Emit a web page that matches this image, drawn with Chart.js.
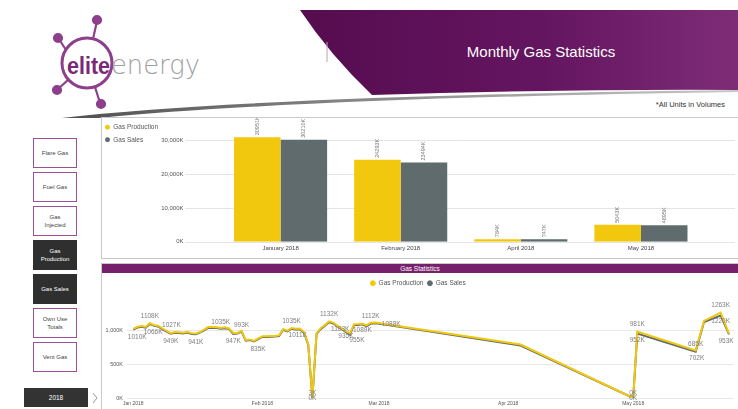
<!DOCTYPE html>
<html>
<head>
<meta charset="utf-8">
<script src="https://cdn.jsdelivr.net/npm/chart.js@4.4.0/dist/chart.umd.min.js"></script>
<style>
    body { margin: 0; width: 738px; height: 409px; overflow: hidden; background: #fff; position: relative; font-family: "Liberation Sans", Arial, sans-serif; }
    #header { position: absolute; left: 0; top: 0; }
    .btn { position: absolute; left: 33px; width: 42px; height: 28px; border: 1.5px solid #9C4E97; background: #fff; color: #444; font-size: 6px; display: flex; align-items: center; justify-content: center; text-align: center; line-height: 8px; }
    .btn.on { background: #2F2F2F; border-color: #2F2F2F; color: #fff; }
    #year { position: absolute; left: 24px; top: 388px; width: 64px; height: 19px; background: #333; color: #fff; font-size: 6.5px; display: flex; align-items: center; justify-content: center; }
    .panel { position: absolute; left: 101px; width: 636px; border: 1px solid #c9c9c9; }
    #barPanel { top: 117px; height: 140px; }
    #linePanel { top: 263px; height: 146px; border-bottom: none; }
    #lineTitle { position: absolute; left: 0; top: 0; width: 636px; height: 9px; background: #76206C; color: #fff; font-size: 6.5px; line-height: 9px; text-align: center; }
    canvas { position: absolute; left: 0; }
    #units { position: absolute; right: 13px; top: 100px; font-size: 7.5px; color: #333; }
</style>
</head>
<body>
<svg id="header" width="738" height="118">
    <defs>
        <linearGradient id="purple" x1="0" y1="0" x2="1" y2="0">
            <stop offset="0" stop-color="#560C4F"/>
            <stop offset="0.55" stop-color="#641560"/>
            <stop offset="1" stop-color="#7E2C76"/>
        </linearGradient>
        <linearGradient id="swoosh" x1="0" y1="0" x2="1" y2="0">
            <stop offset="0" stop-color="#444"/>
            <stop offset="0.5" stop-color="#8a8a8a"/>
            <stop offset="1" stop-color="#c8c8c8"/>
        </linearGradient>
    </defs>
    <path d="M300 10 L738 10 L738 90 Q560 89 372 95 Q330 55 300 10 Z" fill="url(#purple)"/>
    <path d="M5 126 Q170 97 738 90 L738 92 Q180 100 5 130 Z" fill="url(#swoosh)"/>
    <line x1="327" y1="42" x2="327" y2="62" stroke="#b9a0b5" stroke-width="1"/>
    <text x="541" y="57" text-anchor="middle" font-size="15" fill="#fff" font-family="Liberation Sans, Arial">Monthly Gas Statistics</text>
    <g stroke="#8E3F8C" stroke-width="2.2" fill="#8E3F8C">
        <line x1="93" y1="39" x2="97" y2="21"/>
        <line x1="66" y1="50" x2="59" y2="39"/>
        <line x1="68" y1="80" x2="58" y2="89"/>
        <line x1="95" y1="87" x2="100" y2="103"/>
        <circle cx="97" cy="20" r="4"/>
        <circle cx="58" cy="38" r="4"/>
        <circle cx="57" cy="90" r="4"/>
        <circle cx="101" cy="104" r="4"/>
    </g>
    <circle cx="87" cy="63" r="25" fill="none" stroke="#8E3F8C" stroke-width="3"/>
    <text x="67" y="74" font-size="24" font-weight="bold" fill="#7A2877" textLength="43" lengthAdjust="spacingAndGlyphs" font-family="Liberation Sans, Arial">elite</text>
    <text x="111" y="74" font-size="26" fill="#a0a0a0" textLength="89" lengthAdjust="spacingAndGlyphs" font-family="DejaVu Sans, Liberation Sans" font-weight="200">energy</text>
</svg>
<div id="units">*All Units in Volumes</div>

<div class="btn" style="top:138px">Flare Gas</div>
<div class="btn" style="top:172px">Fuel Gas</div>
<div class="btn" style="top:206px">Gas<br>Injected</div>
<div class="btn on" style="top:240px">Gas<br>Production</div>
<div class="btn on" style="top:274px">Gas Sales</div>
<div class="btn" style="top:308px">Own Use<br>Totals</div>
<div class="btn" style="top:342px">Vent Gas</div>
<div id="year">2018</div>
<svg style="position:absolute;left:91px;top:392px" width="8" height="12"><polyline points="2,1 6,6 2,11" fill="none" stroke="#999" stroke-width="1"/></svg>

<div class="panel" id="barPanel"><canvas id="barChart" width="636" height="140" style="top:0"></canvas></div>
<div class="panel" id="linePanel">
    <div id="lineTitle">Gas Statistics</div>
    <canvas id="lineChart" width="636" height="136" style="top:10px"></canvas>
</div>

<script>
// monthly totals (bar chart)
const barMonths = ['January 2018', 'February 2018', 'April 2018', 'May 2018'];
const barProduction = [30951, 24293, 784, 5043];
const barSales = [30210, 23494, 747, 4895];
const barTicks = [0, 10000, 20000, 30000];

// daily values (line chart), K
const lineDates = [
    '2018-01-01', '2018-01-02', '2018-01-03', '2018-01-04', '2018-01-05', '2018-01-06', '2018-01-07', '2018-01-08',
    '2018-01-09', '2018-01-10', '2018-01-11', '2018-01-12', '2018-01-13', '2018-01-14', '2018-01-15', '2018-01-16',
    '2018-01-17', '2018-01-18', '2018-01-19', '2018-01-20', '2018-01-21', '2018-01-22', '2018-01-23', '2018-01-24',
    '2018-01-25', '2018-01-26', '2018-01-27', '2018-01-28', '2018-01-29', '2018-01-30', '2018-01-31',
    '2018-02-01', '2018-02-02', '2018-02-03', '2018-02-04', '2018-02-05', '2018-02-06', '2018-02-07', '2018-02-08',
    '2018-02-09', '2018-02-10', '2018-02-11', '2018-02-12', '2018-02-13', '2018-02-14', '2018-02-15', '2018-02-16',
    '2018-02-17', '2018-02-18', '2018-02-19', '2018-02-20', '2018-02-21', '2018-02-22', '2018-02-23', '2018-02-24',
    '2018-02-25', '2018-02-26', '2018-02-27', '2018-02-28', '2018-03-01', '2018-03-02',
    '2018-04-04', '2018-05-01', '2018-05-02', '2018-05-16', '2018-05-18', '2018-05-22', '2018-05-24'
];
const lineProduction = [
    1020, 1052, 1065, 1050, 1108, 1075, 1068, 1027,
    992, 958, 975, 970, 965, 978, 955, 952,
    975, 1010, 1048, 1050, 1046, 1035, 1044, 1028,
    960, 962, 993, 858, 866, 845, 880,
    912, 912, 915, 918, 925, 1018, 995, 1035,
    1024, 1028, 975, 800, 3, 960, 1030, 1080,
    1132, 1115, 1070, 1030, 990, 955, 1090, 1092,
    1098, 1072, 1112, 1115, 1110, 1098,
    790, 0, 981, 702, 1140, 1263, 953
];
const lineSales = [
    1010, 1040, 1054, 1040, 1094, 1066, 1058, 1015,
    982, 949, 965, 960, 955, 968, 945, 941,
    965, 1000, 1036, 1038, 1034, 1024, 1032, 1018,
    947, 952, 982, 848, 856, 835, 870,
    902, 902, 905, 908, 915, 1008, 985, 1024,
    1011, 1016, 962, 788, 0, 948, 1018, 1068,
    1118, 1103, 1058, 1018, 975, 935, 1078, 1080,
    1089, 1060, 1100, 1103, 1098, 1088,
    775, 0, 952, 685, 1122, 1220, 940
];
const lineTickDates = ['2018-01-01', '2018-02-01', '2018-03-01', '2018-04-01', '2018-05-01'];
const lineTickLabels = ['Jan 2018', 'Feb 2018', 'Mar 2018', 'Apr 2018', 'May 2018'];
const lineYTicks = [0, 500, 1000];

// which points get a value label: [series (0 production, 1 sales), date, dx, dy]
const lineLabelSpots = [
    [1, '2018-01-01', 4, 8], [0, '2018-01-05', 0, -7], [1, '2018-01-06', -1, 6], [0, '2018-01-08', 9, -3],
    [1, '2018-01-10', 0, 7], [1, '2018-01-16', 0, 8], [0, '2018-01-22', 0, -6], [1, '2018-01-25', 0, 7],
    [0, '2018-01-27', 0, -6], [1, '2018-01-30', 4, 8], [0, '2018-02-08', 0, -7], [1, '2018-02-09', 2, 6],
    [0, '2018-02-13', 0, -5], [1, '2018-02-13', 0, 0], [0, '2018-02-17', 0, -7], [1, '2018-02-18', 7, 6],
    [1, '2018-02-22', -4, 1], [0, '2018-02-22', 7, 7], [1, '2018-02-25', 0, 6], [0, '2018-02-27', 0, -7],
    [1, '2018-03-02', 8, 0], [0, '2018-05-01', 0, -5], [1, '2018-05-01', 0, 0], [0, '2018-05-02', 0, -7],
    [1, '2018-05-02', 0, 7], [1, '2018-05-16', 0, -7], [0, '2018-05-16', 1, 8], [0, '2018-05-22', 0, -7],
    [1, '2018-05-22', 0, 6], [0, '2018-05-24', -3, 8]
];

const YELLOW = '#F2C80F';
const SLATE = '#5F6B6D';
const FONT = '"Liberation Sans", Arial, sans-serif';
Chart.defaults.font.family = FONT;

const dayOf = (s) => {
    const [y, m, d] = s.split('-').map(Number);
    return (Date.UTC(y, m - 1, d) - Date.UTC(2018, 0, 1)) / 864e5;
};
const kLabel = (v) => v.toLocaleString('en-US') + 'K';

// horizontal grid lines that run past the bar area, like the Power BI visual
const bleedGrid = {
    id: 'bleedGrid',
    beforeDatasetsDraw(chart, args, opts) {
        const { ctx, chartArea } = chart;
        const y = chart.scales.y;
        ctx.save();
        ctx.strokeStyle = '#e4e4e4';
        ctx.lineWidth = 1;
        y.ticks.forEach(t => {
            const py = Math.round(y.getPixelForValue(t.value)) + 0.5;
            ctx.beginPath();
            ctx.moveTo(chartArea.left - opts.left, py);
            ctx.lineTo(chartArea.right + opts.right, py);
            ctx.stroke();
        });
        ctx.restore();
    }
};

// rotated value labels above each bar
const barValues = {
    id: 'barValues',
    afterDatasetsDraw(chart) {
        const { ctx } = chart;
        ctx.save();
        ctx.font = '5.5px ' + FONT;
        ctx.fillStyle = '#777';
        ctx.textAlign = 'left';
        ctx.textBaseline = 'middle';
        chart.data.datasets.forEach((ds, di) => {
            chart.getDatasetMeta(di).data.forEach((bar, i) => {
                ctx.save();
                ctx.translate(bar.x, bar.y - 2);
                ctx.rotate(-Math.PI / 2);
                ctx.fillText(ds.data[i] + 'K', 0, 0);
                ctx.restore();
            });
        });
        ctx.restore();
    }
};

// value labels on selected line points
const pointValues = {
    id: 'pointValues',
    afterDatasetsDraw(chart) {
        const { ctx } = chart;
        ctx.save();
        ctx.font = '6.5px ' + FONT;
        ctx.fillStyle = '#808080';
        ctx.textAlign = 'center';
        ctx.textBaseline = 'middle';
        lineLabelSpots.forEach(([s, date, dx, dy]) => {
            const i = lineDates.indexOf(date);
            const pt = chart.getDatasetMeta(s).data[i];
            const v = chart.data.datasets[s].data[i].y;
            ctx.fillText(v + 'K', pt.x + dx, pt.y + dy);
        });
        ctx.restore();
    }
};

new Chart(document.getElementById('barChart'), {
    type: 'bar',
    data: {
        labels: barMonths,
        datasets: [
            { label: 'Gas Production', data: barProduction, backgroundColor: YELLOW },
            { label: 'Gas Sales', data: barSales, backgroundColor: SLATE }
        ]
    },
    options: {
        responsive: false,
        animation: false,
        layout: { padding: { left: -3, right: 37, top: 0, bottom: 3 } },
        datasets: { bar: { categoryPercentage: 0.775, barPercentage: 1 } },
        plugins: {
            legend: {
                position: 'left',
                align: 'start',
                maxWidth: 60,
                labels: {
                    usePointStyle: true,
                    pointStyle: 'circle',
                    boxWidth: 5,
                    boxHeight: 3.5,
                    padding: 6,
                    color: '#555',
                    font: { size: 6.5 }
                }
            },
            tooltip: { enabled: false },
            bleedGrid: { left: 35, right: 34 }
        },
        scales: {
            x: {
                grid: { display: false, drawTicks: false },
                border: { display: false },
                ticks: { color: '#444', font: { size: 6 }, padding: 3, maxRotation: 0 }
            },
            y: {
                min: 0,
                max: 34700,
                afterBuildTicks: (s) => { s.ticks = barTicks.map(v => ({ value: v })); },
                afterFit: (s) => { s.width = 61.5; },
                grid: { display: false, drawTicks: true, tickLength: 34 },
                border: { display: false },
                ticks: { padding: 3, color: '#555', font: { size: 6 }, callback: kLabel }
            }
        }
    },
    plugins: [bleedGrid, barValues]
});

const toPoints = (vals) => lineDates.map((d, i) => ({ x: dayOf(d), y: vals[i] }));

new Chart(document.getElementById('lineChart'), {
    type: 'line',
    data: {
        datasets: [
            { label: 'Gas Production', data: toPoints(lineProduction), borderColor: YELLOW, backgroundColor: YELLOW },
            { label: 'Gas Sales', data: toPoints(lineSales), borderColor: SLATE, backgroundColor: SLATE }
        ]
    },
    options: {
        responsive: false,
        animation: false,
        layout: { padding: { left: 0, right: 4, top: 2, bottom: 0 } },
        elements: {
            line: { borderWidth: 2, tension: 0 },
            point: { radius: 0 }
        },
        plugins: {
            legend: {
                position: 'top',
                labels: {
                    usePointStyle: true,
                    pointStyle: 'circle',
                    boxWidth: 5,
                    boxHeight: 3.5,
                    padding: 4,
                    color: '#555',
                    font: { size: 6.5 }
                }
            },
            tooltip: { enabled: false }
        },
        scales: {
            x: {
                type: 'linear',
                min: -1.5,
                max: 144.2,
                afterBuildTicks: (s) => { s.ticks = lineTickDates.map(d => ({ value: dayOf(d) })); },
                grid: { display: false, drawTicks: false },
                border: { display: false },
                ticks: {
                    color: '#555',
                    font: { size: 5 },
                    padding: 3,
                    maxRotation: 0,
                    autoSkip: false,
                    callback: (v, i) => lineTickLabels[i]
                }
            },
            y: {
                min: 0,
                max: 1500,
                afterBuildTicks: (s) => { s.ticks = lineYTicks.map(v => ({ value: v })); },
                afterFit: (s) => { s.width = 25; },
                grid: { color: '#e8e8e8', drawTicks: false },
                border: { display: false },
                ticks: { padding: 4, color: '#555', font: { size: 5.5 }, callback: kLabel }
            }
        }
    },
    plugins: [pointValues]
});
</script>
</body>
</html>
